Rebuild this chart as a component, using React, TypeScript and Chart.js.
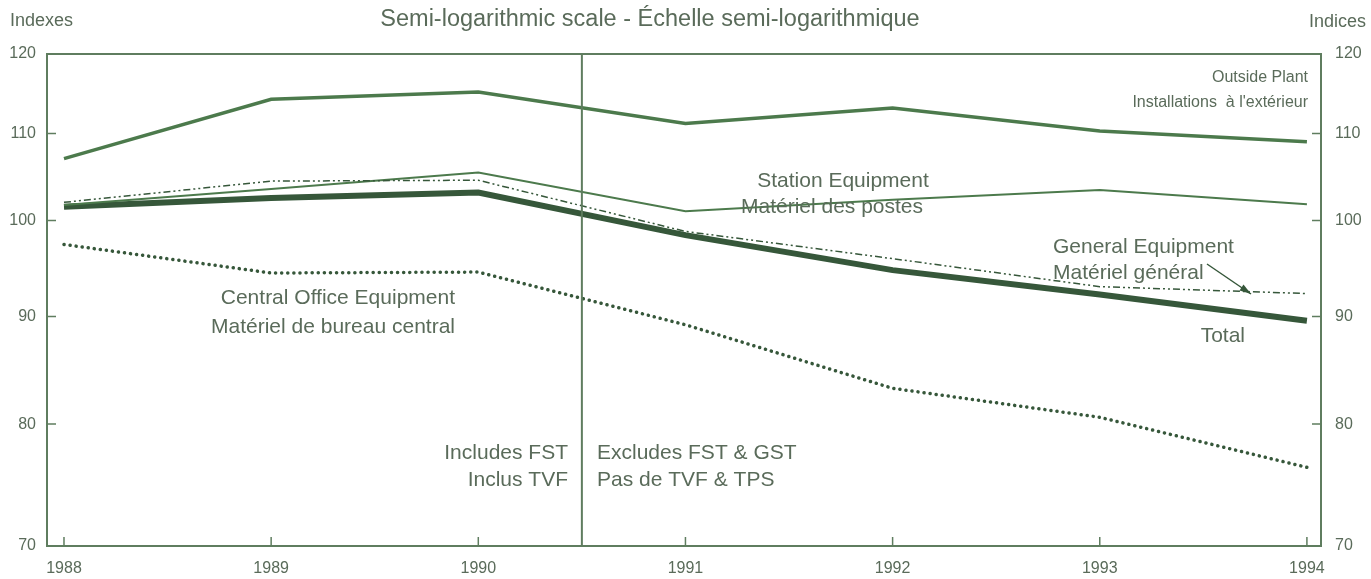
import React, { useEffect, useRef } from "react";
import { Chart, registerables } from "chart.js";

Chart.register(...registerables);

const years = [1988, 1989, 1990, 1991, 1992, 1993, 1994];
const outsidePlant = [107.0, 114.2, 115.1, 111.2, 113.1, 110.3, 109.0];
const stationEquipment = [101.7, 103.5, 105.4, 101.0, 102.3, 103.4, 101.8];
const generalEquipment = [102.0, 104.4, 104.5, 98.8, 95.9, 93.0, 92.3];
const totalIndex = [101.5, 102.5, 103.1, 98.4, 94.7, 92.2, 89.6];
const centralOffice = [97.4, 94.4, 94.5, 89.2, 83.2, 80.6, 76.3];
const yTicks = [70, 80, 90, 100, 110, 120];
const taxBreakYear = 1990.5;

const FONT = "'Liberation Sans', Arial, Helvetica, sans-serif";
const TEXT = "#5a6b5a";
const AXIS = "#5f7d5f";
const LINE = "#4c7a4c";
const DARK = "#36573a";

const pts = (vals: number[]) => years.map((y, i) => ({ x: y, y: vals[i] }));

const framePlugin = {
  id: "frame",
  afterDatasetsDraw(chart: any) {
    const { ctx, chartArea: a, scales } = chart;
    ctx.save();
    ctx.strokeStyle = AXIS;
    ctx.lineWidth = 2;
    ctx.strokeRect(a.left, a.top, a.right - a.left, a.bottom - a.top);
    const vx = scales.x.getPixelForValue(taxBreakYear);
    ctx.beginPath();
    ctx.moveTo(vx, a.top);
    ctx.lineTo(vx, a.bottom);
    ctx.stroke();
    ctx.lineWidth = 1.5;
    yTicks.forEach((v) => {
      const py = scales.y.getPixelForValue(v);
      ctx.beginPath();
      ctx.moveTo(a.left, py);
      ctx.lineTo(a.left + 9, py);
      ctx.moveTo(a.right, py);
      ctx.lineTo(a.right - 9, py);
      ctx.stroke();
    });
    years.forEach((v) => {
      const px = scales.x.getPixelForValue(v);
      ctx.beginPath();
      ctx.moveTo(px, a.bottom);
      ctx.lineTo(px, a.bottom - 9);
      ctx.stroke();
    });
    ctx.restore();
  },
  afterDraw(chart: any) {
    const { ctx } = chart;
    ctx.save();
    ctx.fillStyle = TEXT;
    ctx.textBaseline = "middle";
    const t = (s: string, x: number, y: number, align: CanvasTextAlign, size = 21) => {
      ctx.font = `${size}px ${FONT}`;
      ctx.textAlign = align;
      ctx.fillText(s, x, y);
    };
    t("Indexes", 10, 21, "left", 18);
    t("Semi-logarithmic scale - Échelle semi-logarithmique", 650, 20, "center", 23.5);
    t("Indices", 1366, 22, "right", 18);
    t("Outside Plant", 1308, 78, "right", 16);
    t("Installations  à l'extérieur", 1308, 103, "right", 16);
    t("Station Equipment", 843, 181, "center");
    t("Matériel des postes", 832, 207, "center");
    t("General Equipment", 1053, 247, "left");
    t("Matériel général", 1053, 273, "left");
    t("Central Office Equipment", 455, 298, "right");
    t("Matériel de bureau central", 455, 327, "right");
    t("Total", 1245, 336, "right");
    t("Includes FST", 568, 453, "right");
    t("Inclus TVF", 568, 480, "right");
    t("Excludes FST & GST", 597, 453, "left");
    t("Pas de TVF & TPS", 597, 480, "left");
    ctx.strokeStyle = DARK;
    ctx.fillStyle = DARK;
    ctx.lineWidth = 1.5;
    const x1 = 1207, y1 = 264, x2 = 1251, y2 = 294;
    ctx.beginPath();
    ctx.moveTo(x1, y1);
    ctx.lineTo(x2, y2);
    ctx.stroke();
    const ang = Math.atan2(y2 - y1, x2 - x1);
    ctx.beginPath();
    ctx.moveTo(x2, y2);
    ctx.lineTo(x2 - 12 * Math.cos(ang - 0.3), y2 - 12 * Math.sin(ang - 0.3));
    ctx.lineTo(x2 - 12 * Math.cos(ang + 0.3), y2 - 12 * Math.sin(ang + 0.3));
    ctx.closePath();
    ctx.fill();
    ctx.restore();
  },
};

export default function App() {
  const ref = useRef<HTMLCanvasElement>(null);
  useEffect(() => {
    document.body.style.margin = "0";
    const tickFont = { family: FONT, size: 16 };
    const yAxis = (position: "left" | "right", width: number, pad: number) => ({
      type: "logarithmic" as const,
      position,
      min: 70,
      max: 120,
      afterBuildTicks: (s: any) => {
        s.ticks = yTicks.map((v) => ({ value: v }));
      },
      afterFit: (s: any) => {
        s.width = width;
      },
      ticks: {
        callback: (v: any) => String(v),
        font: tickFont,
        color: TEXT,
        padding: pad,
      },
      grid: { display: false, drawTicks: false },
      border: { display: false },
    });
    const chart = new Chart(ref.current!, {
      type: "line",
      data: {
        datasets: [
          {
            data: pts(generalEquipment),
            borderColor: DARK,
            borderWidth: 1.5,
            borderDash: [7, 3, 2, 3, 2, 3],
            pointRadius: 0,
            tension: 0,
          },
          {
            data: pts(stationEquipment),
            borderColor: LINE,
            borderWidth: 2,
            pointRadius: 0,
            tension: 0,
          },
          {
            data: pts(totalIndex),
            borderColor: DARK,
            borderWidth: 6,
            pointRadius: 0,
            tension: 0,
          },
          {
            data: pts(outsidePlant),
            borderColor: LINE,
            borderWidth: 3.5,
            pointRadius: 0,
            tension: 0,
          },
          {
            data: pts(centralOffice),
            borderColor: DARK,
            borderWidth: 3.5,
            borderDash: [0.1, 6],
            borderCapStyle: "round",
            pointRadius: 0,
            tension: 0,
          },
        ],
      },
      options: {
        animation: false,
        responsive: false,
        events: [],
        layout: { padding: { top: 54, left: 0, right: 0, bottom: 0 } },
        plugins: { legend: { display: false }, tooltip: { enabled: false } },
        scales: {
          x: {
            type: "linear",
            min: 1987.918,
            max: 1994.068,
            afterBuildTicks: (s: any) => {
              s.ticks = years.map((v) => ({ value: v }));
            },
            afterFit: (s: any) => {
              s.height = 33;
            },
            ticks: {
              callback: (v: any) => String(v),
              font: tickFont,
              color: TEXT,
              padding: 13,
              maxRotation: 0,
              autoSkip: false,
            },
            grid: { display: false, drawTicks: false },
            border: { display: false },
          },
          y: yAxis("left", 47, 11),
          y2: yAxis("right", 50, 14),
        },
      } as any,
      plugins: [framePlugin],
    });
    return () => chart.destroy();
  }, []);
  return (
    <div style={{ width: 1371, height: 579, background: "#fff" }}>
      <canvas ref={ref} width={1371} height={579} />
    </div>
  );
}
